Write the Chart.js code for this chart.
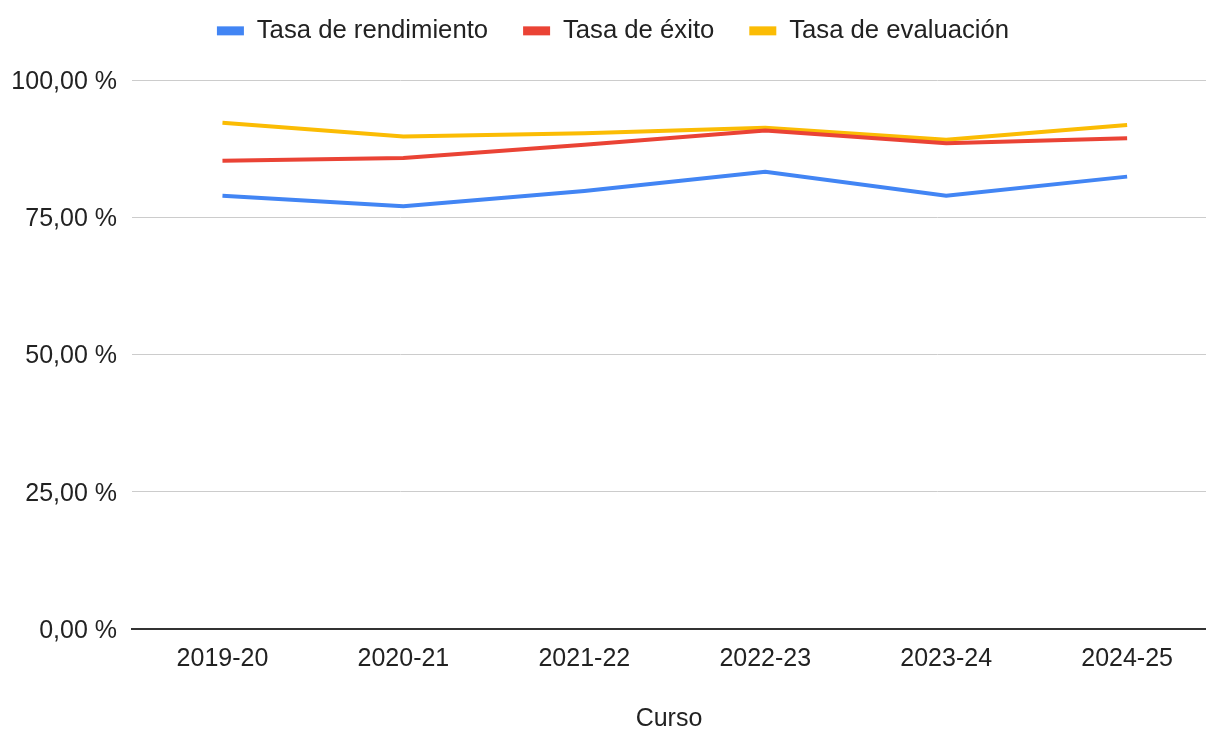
<!DOCTYPE html>
<html lang="es">

<head>
    <meta charset="UTF-8">
    <title>Tasas por curso</title>
    <script src="https://cdn.jsdelivr.net/npm/chart.js"></script>
    <style>
        body { margin: 0; background: #fff; }
        .wrap { width: 1206px; height: 731px; position: relative; }
    </style>
</head>

<body>
    <div class="wrap">
        <canvas id="ratesChart"></canvas>
    </div>
    <script>
        // Datos
        const cursos = ['2019-20', '2020-21', '2021-22', '2022-23', '2023-24', '2024-25'];
        const tasaRendimiento = [78.9, 77.0, 79.8, 83.3, 78.9, 82.4];
        const tasaExito = [85.3, 85.8, 88.2, 90.8, 88.5, 89.4];
        const tasaEvaluacion = [92.2, 89.7, 90.3, 91.3, 89.1, 91.8];
        const yTicks = [0, 25, 50, 75, 100];

        const FONT = 'Arial, "Liberation Sans", sans-serif';

        function toPoints(values) {
            return values.map((v, i) => ({ x: i, y: v }));
        }

        // Alto fijo para la leyenda (deja el área de trazado en y=80)
        // y un pequeño desplazamiento a la derecha, como en el original
        const legendGap = {
            id: 'legendGap',
            beforeInit(chart) {
                const origFit = chart.legend.fit;
                chart.legend.fit = function () {
                    origFit.bind(chart.legend)();
                    this.height = 97;
                };
            },
            afterLayout(chart) {
                chart.legend.left += 10;
                chart.legend.right += 10;
            }
        };

        new Chart(document.getElementById('ratesChart'), {
            type: 'line',
            data: {
                datasets: [
                    { label: 'Tasa de rendimiento', data: toPoints(tasaRendimiento), borderColor: '#4285F4', backgroundColor: '#4285F4' },
                    { label: 'Tasa de éxito', data: toPoints(tasaExito), borderColor: '#EA4335', backgroundColor: '#EA4335' },
                    { label: 'Tasa de evaluación', data: toPoints(tasaEvaluacion), borderColor: '#FBBC04', backgroundColor: '#FBBC04' }
                ]
            },
            options: {
                responsive: true,
                maintainAspectRatio: false,
                animation: false,
                layout: { padding: { top: -17, left: 0, right: 0, bottom: 0 } },
                elements: {
                    line: { borderWidth: 4, tension: 0 },
                    point: { radius: 0, hoverRadius: 0 }
                },
                plugins: {
                    tooltip: { enabled: false },
                    legend: {
                        position: 'top',
                        labels: {
                            font: { family: FONT, size: 25.7 },
                            color: '#222',
                            boxWidth: 27,
                            boxHeight: 9,
                            padding: 35,
                            generateLabels: chart => Chart.defaults.plugins.legend.labels.generateLabels(chart)
                                .map(item => ({ ...item, lineWidth: 0 }))
                        }
                    }
                },
                scales: {
                    x: {
                        type: 'linear',
                        min: -0.5,
                        max: 5.436,
                        afterBuildTicks: s => { s.ticks = cursos.map((c, i) => ({ value: i })); },
                        afterFit: s => { s.height = 102; },
                        grid: { display: false, drawTicks: false },
                        border: { display: true, color: '#333', width: 2 },
                        ticks: {
                            callback: v => cursos[v],
                            font: { family: FONT, size: 25 },
                            color: '#222',
                            padding: 15,
                            maxRotation: 0,
                            autoSkip: false
                        },
                        title: {
                            display: true,
                            text: 'Curso',
                            font: { family: FONT, size: 25 },
                            color: '#222',
                            padding: { top: 0, bottom: -3 }
                        }
                    },
                    y: {
                        min: 0,
                        max: 100,
                        afterBuildTicks: s => { s.ticks = yTicks.map(v => ({ value: v })); },
                        afterFit: s => { s.width = 132; },
                        grid: { color: '#cccccc', lineWidth: 1, drawTicks: false },
                        border: { display: false },
                        ticks: {
                            callback: v => v.toFixed(2).replace('.', ',') + ' %',
                            font: { family: FONT, size: 25 },
                            color: '#222',
                            padding: 15,
                            labelOffset: 2
                        }
                    }
                }
            },
            plugins: [legendGap]
        });
    </script>
</body>

</html>
